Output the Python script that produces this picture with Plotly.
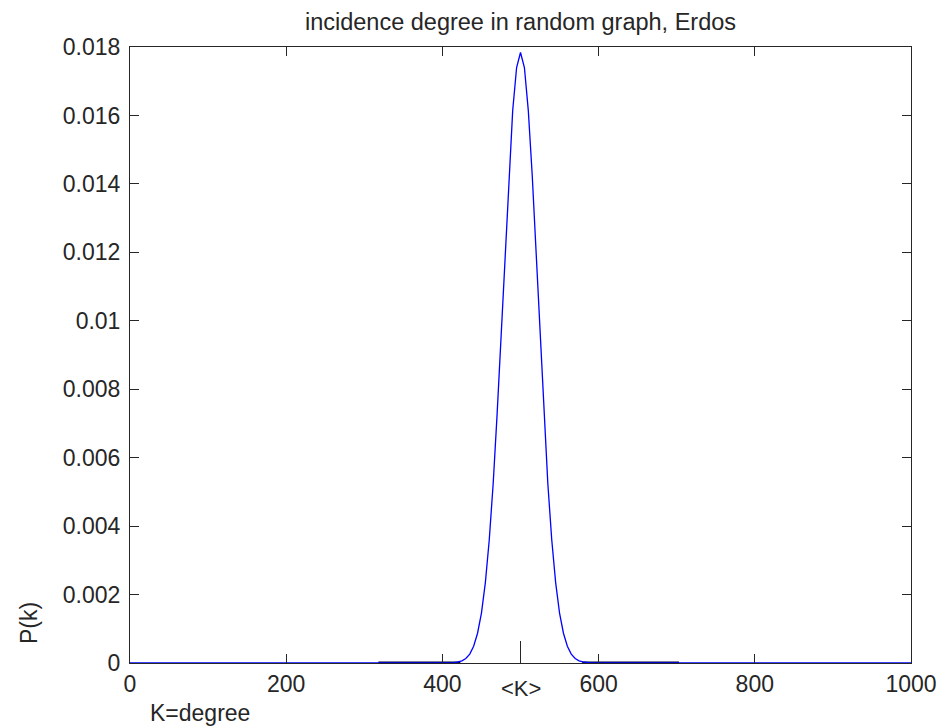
import plotly.graph_objects as go

# ---- data ----
degree = [0, 400, 410, 415, 420, 425, 430, 435, 440, 445, 450, 455, 460, 465, 470, 475,
          480, 485, 490, 495, 500, 505, 510, 515, 520, 525, 530, 535, 540, 545, 550,
          555, 560, 565, 570, 575, 580, 585, 590, 600, 1000]
prob = [0, 0, 0.000002, 0.00001, 0.00003, 0.000064, 0.00013, 0.00026, 0.00049, 0.00087,
        0.00146, 0.00235, 0.0036, 0.00524, 0.00725, 0.00955, 0.01196, 0.01425, 0.01614,
        0.0174, 0.01784, 0.0174, 0.01614, 0.01425, 0.01196, 0.00955, 0.00725, 0.00524,
        0.0036, 0.00235, 0.00146, 0.00087, 0.00049, 0.00026, 0.00013, 0.000064, 0.00003,
        0.00001, 0.000002, 0, 0]

# dark baseline segments seen under the blue curve
base_x = [318, 423, None, 579, 703]
base_y = [0, 0, None, 0, 0]

mean_k = 500
mean_label = "<K>"

x_ticks = [0, 200, 400, 600, 800, 1000]
y_ticks = [0, 0.002, 0.004, 0.006, 0.008, 0.01, 0.012, 0.014, 0.016, 0.018]
y_ticktext = ["0", "0.002", "0.004", "0.006", "0.008", "0.01", "0.012", "0.014", "0.016", "0.018"]

title_text = "incidence degree in random graph, Erdos"
x_label = "K=degree"
y_label = "P(k)"

AX = "#262626"
FONT = "Liberation Sans, Arial, sans-serif"
FS = 23

fig = go.Figure()
fig.add_trace(go.Scatter(x=base_x, y=base_y, mode="lines",
                         line=dict(color="#000033", width=3), hoverinfo="skip",
                         showlegend=False, cliponaxis=False))
fig.add_trace(go.Scatter(x=degree, y=prob, mode="lines",
                         line=dict(color="#0000FF", width=1.3), showlegend=False,
                         cliponaxis=False))

fig.update_layout(
    width=938, height=728,
    margin=dict(l=130, r=27, t=47, b=65, autoexpand=False),
    paper_bgcolor="white", plot_bgcolor="white",
    font=dict(family=FONT, size=FS, color=AX),
    title=dict(text=title_text, x=0.5, xref="paper", xanchor="center",
               y=0.9698, yref="container", yanchor="middle",
               font=dict(size=23.5, color=AX, family=FONT)),
    xaxis=dict(range=[0, 1000], tickvals=x_ticks, ticks="inside", ticklen=9,
               tickcolor=AX, showline=True, linecolor=AX, linewidth=1, mirror="ticks",
               showgrid=False, zeroline=False, tickfont=dict(size=FS, color=AX)),
    xaxis2=dict(range=[0, 1000], overlaying="x", side="bottom", tickvals=[mean_k],
                ticks="inside", ticklen=22, tickcolor=AX, showticklabels=False,
                showline=False, showgrid=False, zeroline=False),
    yaxis=dict(range=[0, 0.018], tickvals=y_ticks, ticktext=y_ticktext, ticks="inside",
               ticklen=9, tickcolor=AX, showline=True, linecolor=AX, linewidth=1,
               mirror="ticks", showgrid=False, zeroline=False,
               tickfont=dict(size=FS, color=AX), ticklabelstandoff=4),
    annotations=[
        dict(text=mean_label, x=mean_k, y=0, xref="x", yref="y", yshift=-25,
             showarrow=False, font=dict(size=FS - 1, color=AX)),
        dict(text=x_label, x=0.0896, y=-0.0805, xref="paper", yref="paper",
             xanchor="center", yanchor="middle",
             showarrow=False, font=dict(size=FS, color=AX)),
        dict(text=y_label, x=-0.1293, y=0.0649, xref="paper", yref="paper",
             xanchor="center", yanchor="middle",
             textangle=-90, showarrow=False, font=dict(size=FS, color=AX)),
    ],
)
# dummy trace on xaxis2 so the overlay axis renders
fig.add_trace(go.Scatter(x=[mean_k], y=[None], xaxis="x2", mode="lines",
                         showlegend=False, hoverinfo="skip"))

fig.write_html("out.html", config={"displayModeBar": False},
               post_script="document.body.style.margin='0';document.body.style.overflow='hidden';")
